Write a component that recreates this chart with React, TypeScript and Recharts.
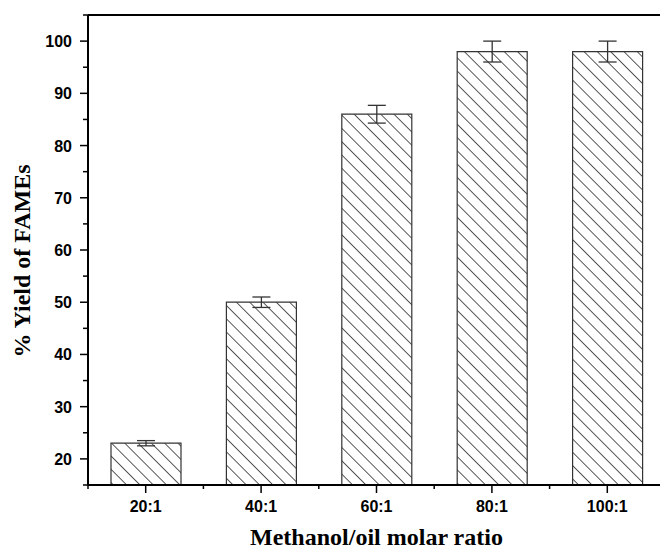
import React from "react"
import { BarChart, Bar, XAxis, YAxis, ErrorBar, ReferenceLine, Label } from "recharts"

const categories = ["20:1", "40:1", "60:1", "80:1", "100:1"]
const yields = [23, 50, 86, 98, 98]
const yieldErrors = [0.5, 1, 1.7, 2, 2]
const yTicks = [15, 20, 25, 30, 35, 40, 45, 50, 55, 60, 65, 70, 75, 80, 85, 90, 95, 100, 105]

const data = categories.map((ratio, i) => ({
  ratio,
  yield: yields[i],
  err: yieldErrors[i],
}))

const CHART_W = 680
const CHART_H = 551
const MARGIN = { top: 15, right: 15, bottom: 36, left: 0 }
const Y_AXIS_W = 88
const BAND_W = (CHART_W - MARGIN.left - MARGIN.right - Y_AXIS_W) / categories.length

const YTick = (props: any) => {
  const { x, y, payload } = props
  const major = payload.value % 10 === 0
  return (
    <g>
      <line x1={x} x2={x - (major ? 8 : 5)} y1={y} y2={y} stroke="#000" strokeWidth={1.5} />
      {major && payload.value <= 100 && (
        <text
          x={x - 16}
          y={y + 6}
          textAnchor="end"
          fontFamily="'Liberation Sans', Arial, sans-serif"
          fontWeight="bold"
          fontSize={16}
          fill="#000"
        >
          {payload.value}
        </text>
      )}
    </g>
  )
}

const XTick = (props: any) => {
  const { x, y, payload } = props
  return (
    <g>
      <line x1={x} x2={x} y1={y} y2={y + 8} stroke="#000" strokeWidth={1.5} />
      <line x1={x - BAND_W / 2} x2={x - BAND_W / 2} y1={y} y2={y + 4} stroke="#000" strokeWidth={1.5} />
      <text
        x={x}
        y={y + 27}
        textAnchor="middle"
        fontFamily="'Liberation Sans', Arial, sans-serif"
        fontWeight="bold"
        fontSize={16}
        fill="#000"
      >
        {payload.value}
      </text>
    </g>
  )
}

export default function App() {
  return (
    <div style={{ position: "absolute", left: 0, top: 0, width: 660, height: 551, overflow: "hidden", background: "#fff" }}>
      <svg width="0" height="0" style={{ position: "absolute" }}>
        <defs>
          <pattern id="hatch" patternUnits="userSpaceOnUse" width="9.4" height="9.4" patternTransform="rotate(-45)">
            <rect width="9.4" height="9.4" fill="#fff" />
            <line x1="0" y1="0" x2="0" y2="9.4" stroke="#000" strokeWidth={1.3} />
          </pattern>
        </defs>
      </svg>
      <BarChart width={CHART_W} height={CHART_H} data={data} margin={MARGIN} barSize={70}>
        <XAxis
          dataKey="ratio"
          height={30}
          axisLine={{ stroke: "#000", strokeWidth: 2 }}
          tickLine={false}
          tickSize={0}
          tickMargin={0}
          tick={<XTick />}
          interval={0}
        >
          <Label
            content={(p: any) => {
              const vb = p.viewBox
              return (
                <text
                  x={vb.x + vb.width / 2}
                  y={545}
                  textAnchor="middle"
                  fontFamily="'Liberation Serif', 'Times New Roman', serif"
                  fontWeight="bold"
                  fontSize={24}
                  fill="#000"
                >
                  Methanol/oil molar ratio
                </text>
              )
            }}
          />
        </XAxis>
        <YAxis
          width={Y_AXIS_W}
          domain={[15, 105]}
          ticks={yTicks}
          interval={0}
          axisLine={{ stroke: "#000", strokeWidth: 2 }}
          tickLine={false}
          tickSize={0}
          tickMargin={0}
          tick={<YTick />}
        >
          <Label
            content={() => (
              <text
                x={30}
                y={261}
                transform="rotate(-90, 30, 261)"
                textAnchor="middle"
                fontFamily="'Liberation Serif', 'Times New Roman', serif"
                fontWeight="bold"
                fontSize={24}
                fill="#000"
              >
                % Yield of FAMEs
              </text>
            )}
          />
        </YAxis>
        <ReferenceLine y={105} stroke="#000" strokeWidth={2} />
        <Bar dataKey="yield" fill="url(#hatch)" stroke="#333" strokeWidth={1.2} isAnimationActive={false}>
          <ErrorBar dataKey="err" width={9} stroke="#333" strokeWidth={1.3} isAnimationActive={false} />
        </Bar>
      </BarChart>
    </div>
  )
}
